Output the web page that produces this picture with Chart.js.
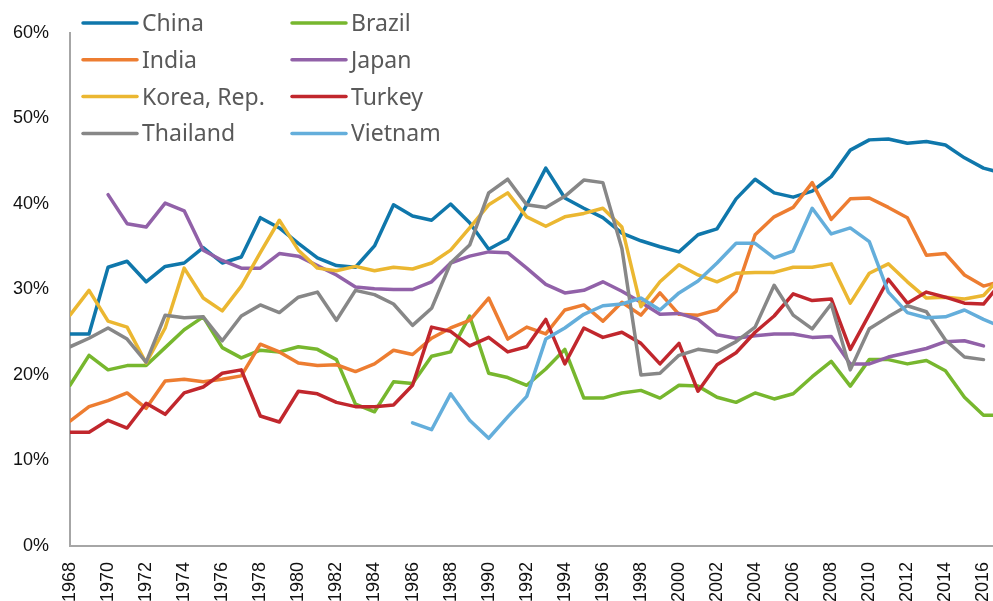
<!DOCTYPE html>
<html>
<head>
  <meta charset="utf-8">
  <script src="https://cdn.jsdelivr.net/npm/chart.js@4.4.0/dist/chart.umd.min.js"></script>
  <style>
    html, body { margin: 0; padding: 0; background: #fff; }
    .chart-container { position: relative; width: 993px; height: 601px; }
  </style>
</head>
<body>
  <div class="chart-container"><canvas id="shareChart"></canvas></div>

  <script>
    const years = [1968, 1969, 1970, 1971, 1972, 1973, 1974, 1975, 1976, 1977,
                   1978, 1979, 1980, 1981, 1982, 1983, 1984, 1985, 1986, 1987,
                   1988, 1989, 1990, 1991, 1992, 1993, 1994, 1995, 1996, 1997,
                   1998, 1999, 2000, 2001, 2002, 2003, 2004, 2005, 2006, 2007,
                   2008, 2009, 2010, 2011, 2012, 2013, 2014, 2015, 2016, 2017];
    const tickYears = [1968, 1970, 1972, 1974, 1976, 1978, 1980, 1982, 1984, 1986,
                       1988, 1990, 1992, 1994, 1996, 1998, 2000, 2002, 2004, 2006,
                       2008, 2010, 2012, 2014, 2016];
    const yTicks = [0, 10, 20, 30, 40, 50, 60];

    // values in %
    const china = [24.8, 24.8, 32.6, 33.3, 30.9, 32.7, 33.1, 34.9, 33.1, 33.8,
                   38.4, 37.2, 35.4, 33.7, 32.8, 32.6, 35.1, 39.9, 38.6, 38.1,
                   40.0, 37.8, 34.7, 35.9, 39.9, 44.2, 40.7, 39.5, 38.4, 36.6,
                   35.7, 35.0, 34.4, 36.4, 37.1, 40.6, 42.9, 41.3, 40.8, 41.5,
                   43.2, 46.3, 47.5, 47.6, 47.1, 47.3, 46.9, 45.4, 44.2, 43.6];
    const brazil = [18.8, 22.3, 20.6, 21.1, 21.1, 23.2, 25.3, 26.8, 23.2, 22.0,
                    22.9, 22.7, 23.3, 23.0, 21.8, 16.6, 15.7, 19.2, 19.0, 22.2,
                    22.7, 26.9, 20.2, 19.7, 18.8, 20.7, 23.0, 17.3, 17.3, 17.9,
                    18.2, 17.3, 18.8, 18.7, 17.4, 16.8, 17.9, 17.2, 17.8, 19.8,
                    21.6, 18.7, 21.8, 21.8, 21.3, 21.7, 20.5, 17.4, 15.3, 15.3];
    const india = [14.6, 16.3, 17.0, 17.9, 16.1, 19.3, 19.5, 19.2, 19.5, 19.9,
                   23.6, 22.7, 21.4, 21.1, 21.2, 20.4, 21.3, 22.9, 22.4, 24.3,
                   25.5, 26.4, 29.0, 24.2, 25.6, 24.8, 27.6, 28.2, 26.3, 28.5,
                   27.0, 29.6, 27.1, 27.0, 27.6, 29.8, 36.4, 38.5, 39.6, 42.5,
                   38.2, 40.6, 40.7, 39.6, 38.4, 34.0, 34.2, 31.7, 30.4, 31.0];
    const japan = [null, null, 41.1, 37.7, 37.3, 40.1, 39.2, 34.6, 33.4, 32.5,
                   32.5, 34.2, 33.9, 32.8, 31.7, 30.3, 30.1, 30.0, 30.0, 30.9,
                   33.1, 33.9, 34.4, 34.3, 32.5, 30.6, 29.6, 29.9, 30.9, 29.8,
                   28.5, 27.1, 27.2, 26.5, 24.7, 24.3, 24.6, 24.8, 24.8, 24.4,
                   24.5, 21.3, 21.3, 22.1, 22.6, 23.1, 23.9, 24.0, 23.4, null];
    const korea = [27.0, 29.9, 26.3, 25.6, 21.4, 25.5, 32.5, 29.0, 27.5, 30.4,
                   34.3, 38.1, 34.6, 32.5, 32.2, 32.7, 32.2, 32.6, 32.4, 33.1,
                   34.6, 37.2, 39.9, 41.3, 38.5, 37.4, 38.5, 38.9, 39.5, 37.3,
                   28.0, 30.9, 32.9, 31.7, 30.9, 31.9, 32.0, 32.0, 32.6, 32.6,
                   33.0, 28.4, 31.9, 33.0, 30.9, 29.0, 29.1, 28.9, 29.3, 31.7];
    const turkey = [13.3, 13.3, 14.7, 13.8, 16.7, 15.4, 17.9, 18.6, 20.2, 20.6,
                    15.2, 14.5, 18.1, 17.8, 16.8, 16.3, 16.3, 16.5, 18.8, 25.6,
                    25.1, 23.4, 24.4, 22.7, 23.3, 26.5, 21.3, 25.5, 24.4, 25.0,
                    23.7, 21.3, 23.7, 18.1, 21.2, 22.6, 25.0, 26.9, 29.5, 28.7,
                    28.9, 23.0, 27.1, 31.2, 28.4, 29.7, 29.1, 28.4, 28.3, 31.0];
    const thailand = [23.3, 24.3, 25.5, 24.2, 21.5, 27.0, 26.7, 26.8, 24.0, 26.9,
                      28.2, 27.3, 29.1, 29.7, 26.4, 29.9, 29.4, 28.3, 25.8, 27.8,
                      33.1, 35.2, 41.3, 42.9, 39.9, 39.6, 40.9, 42.8, 42.5, 34.8,
                      20.0, 20.2, 22.3, 23.0, 22.7, 23.9, 25.6, 30.5, 27.0, 25.4,
                      28.3, 20.6, 25.4, 26.8, 28.1, 27.4, 24.1, 22.1, 21.8, null];
    const vietnam = [null, null, null, null, null, null, null, null, null, null,
                     null, null, null, null, null, null, null, null, 14.4, 13.6,
                     17.8, 14.7, 12.6, 15.1, 17.5, 24.2, 25.5, 27.1, 28.1, 28.3,
                     29.0, 27.6, 29.6, 31.0, 33.1, 35.4, 35.4, 33.7, 34.5, 39.5,
                     36.5, 37.2, 35.6, 29.7, 27.3, 26.7, 26.8, 27.6, 26.5, 25.6];

    const series = [
      { label: 'China', values: china, color: '#0f77ab' },
      { label: 'Brazil', values: brazil, color: '#77b72e' },
      { label: 'India', values: india, color: '#ed7d31' },
      { label: 'Japan', values: japan, color: '#9161a8' },
      { label: 'Korea, Rep.', values: korea, color: '#ebb731' },
      { label: 'Turkey', values: turkey, color: '#c1272d' },
      { label: 'Thailand', values: thailand, color: '#878787' },
      { label: 'Vietnam', values: vietnam, color: '#64aedb' }
    ];

    // two-column legend inside the plot, top left
    const legendBox = {
      id: 'legendBox',
      afterDatasetsDraw(chart) {
        const ctx = chart.ctx;
        ctx.save();
        ctx.font = '23px "Noto Sans"';
        ctx.fillStyle = '#595959';
        ctx.textBaseline = 'alphabetic';
        ctx.lineCap = 'round';
        ctx.lineWidth = 3.5;
        chart.data.datasets.forEach((ds, i) => {
          const x = i % 2 ? 292 : 83;
          const y = 23 + Math.floor(i / 2) * 36.8;
          ctx.strokeStyle = ds.borderColor;
          ctx.beginPath();
          ctx.moveTo(x, y);
          ctx.lineTo(x + 54, y);
          ctx.stroke();
          ctx.fillText(ds.label, x + 59, y + 8);
        });
        ctx.restore();
      }
    };

    const tickFont = { family: '"Liberation Sans", Arial, sans-serif', size: 18 };

    new Chart(document.getElementById('shareChart'), {
      type: 'line',
      data: {
        datasets: series.map((s, i) => ({
          label: s.label,
          data: years.map((yr, j) => ({ x: yr, y: s.values[j] })),
          borderColor: s.color,
          backgroundColor: s.color,
          borderWidth: 3.5,
          pointRadius: 0,
          tension: 0,
          borderJoinStyle: 'round',
          borderCapStyle: 'round',
          fill: false,
          order: series.length - i
        }))
      },
      options: {
        responsive: true,
        maintainAspectRatio: false,
        animation: false,
        layout: { padding: { top: 33, right: 0, bottom: 0, left: 0 } },
        plugins: {
          legend: { display: false },
          tooltip: { enabled: false }
        },
        scales: {
          x: {
            type: 'linear',
            min: 1968,
            max: 2016.5,
            grid: { display: false, drawTicks: false, tickLength: 0 },
            border: { display: true, color: '#a6a6a6', width: 2 },
            afterBuildTicks: scale => { scale.ticks = tickYears.map(v => ({ value: v })); },
            afterFit: scale => { scale.height = 55; scale.paddingLeft = 0; scale.paddingRight = 0; },
            ticks: {
              autoSkip: false,
              minRotation: 90,
              maxRotation: 90,
              padding: 16,
              color: '#111',
              font: tickFont,
              callback: v => String(v)
            }
          },
          y: {
            min: 0,
            max: 60,
            grid: { display: false, drawTicks: false, tickLength: 0 },
            border: { display: true, color: '#a6a6a6', width: 2 },
            afterBuildTicks: scale => { scale.ticks = yTicks.map(v => ({ value: v })); },
            afterFit: scale => { scale.width = 70; scale.paddingTop = 0; scale.paddingBottom = 0; },
            ticks: {
              padding: 21,
              color: '#111',
              font: tickFont,
              callback: v => v + '%'
            }
          }
        }
      },
      plugins: [legendBox]
    });
  </script>
</body>
</html>
